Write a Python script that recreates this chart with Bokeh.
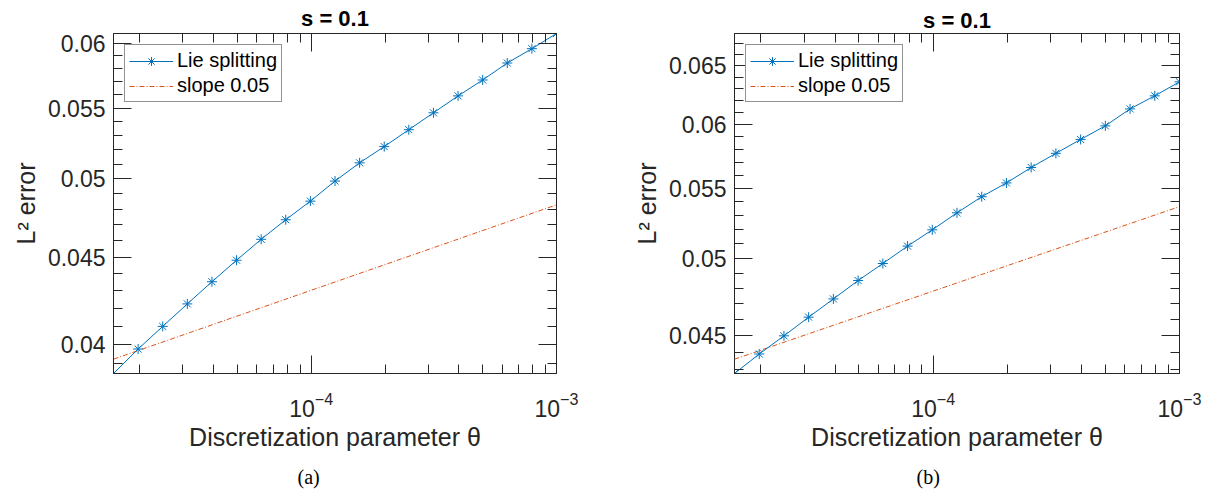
from bokeh.plotting import figure
from bokeh.models import LogAxis, FixedTicker, Range1d, Title, Legend, LegendItem, LogTickFormatter
from bokeh.layouts import row
from bokeh.embed import file_html
from bokeh.resources import INLINE

# ---------------- data ----------------
theta = [1.5625e-05, 1.9686e-05, 2.4803e-05, 3.1250e-05, 3.9373e-05, 4.9606e-05,
         6.2500e-05, 7.8745e-05, 9.9213e-05, 1.2500e-04, 1.5749e-04, 1.9843e-04,
         2.5000e-04, 3.1498e-04, 3.9685e-04, 5.0000e-04, 6.2996e-04, 7.9370e-04,
         1.0000e-03]
err_a = [0.03847, 0.03976, 0.04099, 0.04225, 0.04353, 0.04481, 0.04609, 0.04732,
         0.04852, 0.04985, 0.05109, 0.05222, 0.05342, 0.05465, 0.05591, 0.05712,
         0.05844, 0.05958, 0.06081]
err_b = [0.04275, 0.04390, 0.04500, 0.04616, 0.04732, 0.04852, 0.04966, 0.05085,
         0.05199, 0.05321, 0.05439, 0.05542, 0.05660, 0.05770, 0.05880, 0.05990,
         0.06130, 0.06240, 0.06360]
slope_x = [1.5625e-05, 1.0e-03]
slope_a = [0.03922, 0.04828]
slope_b = [0.04359, 0.05366]

x_major = [1e-4, 1e-3]
x_minor = [2e-5, 3e-5, 4e-5, 5e-5, 6e-5, 7e-5, 8e-5, 9e-5,
           2e-4, 3e-4, 4e-4, 5e-4, 6e-4, 7e-4, 8e-4, 9e-4]

ya_major = [0.04, 0.045, 0.05, 0.055, 0.06]
ya_labels = ["0.04", "0.045", "0.05", "0.055", "0.06"]
ya_minor = [0.039, 0.040, 0.041, 0.042, 0.043, 0.044, 0.045, 0.046, 0.047, 0.048,
            0.049, 0.050, 0.051, 0.052, 0.053, 0.054, 0.055, 0.056, 0.057, 0.058,
            0.059, 0.060]
ya_top = 0.06081

yb_major = [0.045, 0.05, 0.055, 0.06, 0.065]
yb_labels = ["0.045", "0.05", "0.055", "0.06", "0.065"]
yb_minor = [0.043, 0.044, 0.045, 0.046, 0.047, 0.048, 0.049, 0.050, 0.051, 0.052,
            0.053, 0.054, 0.055, 0.056, 0.057, 0.058, 0.059, 0.060, 0.061, 0.062,
            0.063, 0.064, 0.065, 0.066, 0.067]
yb_top = 0.06793

BLUE = "#0072BD"
ORANGE = "#D95319"
AX = "#262626"
FONT = "Liberation Sans"


def style_axis(ax, show_labels=True):
    ax.axis_line_color = AX
    ax.axis_line_width = 1
    ax.major_tick_line_color = AX
    ax.minor_tick_line_color = AX
    ax.major_tick_in = 18
    ax.major_tick_out = 0
    ax.minor_tick_in = 9
    ax.minor_tick_out = 0
    ax.major_label_text_font = FONT
    ax.major_label_text_color = AX
    if show_labels:
        ax.major_label_text_font_size = "23px"
    else:
        ax.major_label_text_font_size = "1px"
        ax.major_label_text_alpha = 0
        ax.major_label_standoff = 0


def make_panel(err, slope, y_top, y_major, y_labels, y_minor, caption, cap_offset,
               border_left, border_right, border_top, title_standoff, frame_w, frame_h):
    width = border_left + frame_w + border_right
    height = 497
    p = figure(width=width, height=height,
               x_axis_type="log", y_axis_type="log",
               x_range=Range1d(theta[0], theta[-1]),
               y_range=Range1d(err[0], y_top),
               output_backend="svg", toolbar_location=None,
               min_border_left=border_left, min_border_right=border_right,
               min_border_top=border_top,
               min_border_bottom=height - border_top - frame_h)
    p.xgrid.visible = False
    p.ygrid.visible = False
    p.outline_line_color = AX
    p.background_fill_color = "white"
    p.border_fill_color = "white"

    p.title.text = "s = 0.1"
    p.title.align = "center"
    p.title.text_font = FONT
    p.title.text_font_size = "22px"
    p.title.text_font_style = "bold"
    p.title.text_color = "black"
    p.title.standoff = title_standoff

    xa = p.xaxis[0]
    xa.ticker = FixedTicker(ticks=x_major, minor_ticks=x_minor)
    xa.formatter = LogTickFormatter()
    style_axis(xa)
    xa.major_label_standoff = 18
    xa.axis_label = "Discretization parameter \u03b8"
    xa.axis_label_text_font = FONT
    xa.axis_label_text_font_size = "25px"
    xa.axis_label_text_font_style = "normal"
    xa.axis_label_text_color = AX
    xa.axis_label_standoff = 3

    ya = p.yaxis[0]
    ya.ticker = FixedTicker(ticks=y_major, minor_ticks=y_minor)
    ya.major_label_overrides = dict(zip(y_major, y_labels))
    style_axis(ya)
    ya.major_label_standoff = 8
    ya.axis_label = "L\u00b2 error"
    ya.axis_label_text_font = FONT
    ya.axis_label_text_font_size = "25px"
    ya.axis_label_text_font_style = "normal"
    ya.axis_label_text_color = AX
    ya.axis_label_standoff = 5

    top = LogAxis(ticker=FixedTicker(ticks=x_major, minor_ticks=x_minor))
    style_axis(top, show_labels=False)
    p.add_layout(top, "above")
    right = LogAxis(ticker=FixedTicker(ticks=y_major, minor_ticks=y_minor))
    style_axis(right, show_labels=False)
    p.add_layout(right, "right")

    r_slope = p.line(slope_x, slope, line_color=ORANGE, line_width=1,
                     line_dash="5 2 1 2")
    r_line = p.line(theta, err, line_color=BLUE, line_width=1)
    r_pts = p.scatter(theta, err, marker="asterisk", size=10, line_color=BLUE,
                      line_width=1)

    lg = Legend(items=[LegendItem(label="Lie splitting", renderers=[r_line, r_pts]),
                       LegendItem(label="slope 0.05", renderers=[r_slope])])
    lg.location = "top_left"
    lg.margin = 11
    lg.padding = 4
    lg.spacing = 2
    lg.glyph_width = 44
    lg.glyph_height = 22
    lg.label_standoff = 4
    lg.label_text_font = FONT
    lg.label_text_font_size = "20px"
    lg.label_text_color = "black"
    lg.border_line_color = AX
    lg.border_line_width = 1
    lg.background_fill_color = "white"
    lg.background_fill_alpha = 1
    p.add_layout(lg, "center")

    cap = Title(text=caption, align="left", offset=cap_offset,
                text_font="Liberation Serif",
                text_font_size="20px", text_font_style="normal", text_color="black",
                standoff=20)
    p.add_layout(cap, "below")
    return p


pa = make_panel(err_a, slope_a, ya_top, ya_major, ya_labels, ya_minor, "(a)", 184,
                border_left=113, border_right=36, border_top=33, title_standoff=5,
                frame_w=443, frame_h=342)
pb = make_panel(err_b, slope_b, yb_top, yb_major, yb_labels, yb_minor, "(b)", 182,
                border_left=142, border_right=24, border_top=30, title_standoff=1,
                frame_w=445, frame_h=345)

layout = row(pa, pb)
open("out.html", "w").write(file_html(layout, INLINE))
